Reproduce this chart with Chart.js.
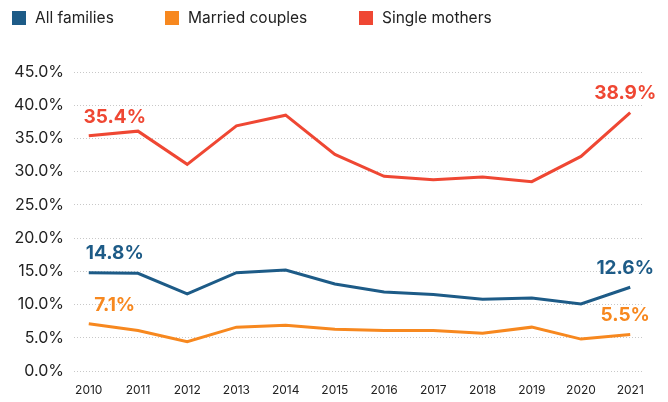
<!DOCTYPE html>
<html>
<head>
<meta charset="utf-8">
<script src="https://cdn.jsdelivr.net/npm/chart.js@4"></script>
<style>
  body { margin: 0; background: #fff; font-family: Inter, sans-serif; }
  #wrap { position: relative; width: 668px; height: 402px; }
  #legend { position: absolute; left: 0; top: 0; width: 668px; height: 36px; font-size: 15.5px; color: #222; }
  .item { position: absolute; top: 9px; height: 18px; line-height: 18px; white-space: nowrap; }
  .box { position: absolute; left: 0; top: 2px; width: 14px; height: 14px; }
  .txt { position: absolute; left: 23px; top: 0; }
</style>
</head>
<body>
<div id="wrap">
  <canvas id="chart" width="668" height="402"></canvas>
  <div id="legend"></div>
</div>
<script>
const years = [2010, 2011, 2012, 2013, 2014, 2015, 2016, 2017, 2018, 2019, 2020, 2021];
const allFamilies = [14.8, 14.7, 11.6, 14.8, 15.2, 13.1, 11.9, 11.5, 10.8, 11.0, 10.1, 12.6];
const marriedCouples = [7.1, 6.1, 4.4, 6.6, 6.9, 6.3, 6.1, 6.1, 5.7, 6.6, 4.8, 5.5];
const singleMothers = [35.4, 36.1, 31.1, 36.9, 38.5, 32.6, 29.3, 28.8, 29.2, 28.5, 32.3, 38.9];
const yTicks = [0, 5, 10, 15, 20, 25, 30, 35, 40, 45];

const seriesNames = ['All families', 'Married couples', 'Single mothers'];
const seriesColors = ['#1d5b87', '#f7881f', '#ef4733'];
const seriesValues = [allFamilies, marriedCouples, singleMothers];

// legend drawn as html, left aligned like the original
const legendX = [12, 165, 359];
const legend = document.getElementById('legend');
seriesNames.forEach((name, i) => {
    const item = document.createElement('div');
    item.className = 'item';
    item.style.left = legendX[i] + 'px';
    item.innerHTML = `<span class="box" style="background:${seriesColors[i]}"></span><span class="txt">${name}</span>`;
    legend.appendChild(item);
});

// first and last value labels above the lines
const endLabels = {
    id: 'endLabels',
    afterDatasetsDraw(chart) {
        const c = chart.ctx;
        c.save();
        c.font = '700 19px Inter, sans-serif';
        c.textAlign = 'center';
        c.textBaseline = 'middle';
        chart.data.datasets.forEach((ds, i) => {
            const pts = chart.getDatasetMeta(i).data;
            const first = pts[0];
            const last = pts[pts.length - 1];
            c.fillStyle = ds.borderColor;
            c.fillText(ds.data[0].y.toFixed(1) + '%', first.x + 26, first.y - 19);
            c.fillText(ds.data[ds.data.length - 1].y.toFixed(1) + '%', last.x - 5, last.y - 19);
        });
        c.restore();
    }
};

const ctx = document.getElementById('chart').getContext('2d');
const chart = new Chart(ctx, {
    type: 'line',
    data: {
        datasets: seriesNames.map((name, i) => ({
            label: name,
            data: years.map((yr, j) => ({ x: yr, y: seriesValues[i][j] })),
            borderColor: seriesColors[i],
            backgroundColor: seriesColors[i],
            borderWidth: 3,
            pointRadius: 0,
            tension: 0,
            fill: false
        }))
    },
    options: {
        responsive: false,
        animation: false,
        layout: { padding: { top: 72, right: 24, bottom: 0, left: 0 } },
        plugins: {
            legend: { display: false },
            tooltip: { enabled: false }
        },
        scales: {
            x: {
                type: 'linear',
                min: 2009.7,
                max: 2021.28,
                afterBuildTicks: scale => { scale.ticks = years.map(v => ({ value: v })); },
                afterFit: scale => { scale.height = 31; },
                grid: { display: false, drawTicks: false, tickLength: 0 },
                border: { display: false },
                ticks: {
                    padding: 12,
                    color: '#222',
                    font: { family: 'Inter', size: 12 },
                    maxRotation: 0,
                    autoSkip: false,
                    callback: v => String(v)
                }
            },
            y: {
                min: 0,
                max: 45,
                afterBuildTicks: scale => { scale.ticks = yTicks.map(v => ({ value: v })); },
                afterFit: scale => { scale.width = 74; },
                grid: {
                    color: '#c8c8c8',
                    lineWidth: 1,
                    drawTicks: false,
                    borderDash: [1, 2]
                },
                border: { display: false, dash: [1, 2] },
                ticks: {
                    padding: 10,
                    color: '#222',
                    font: { family: 'Inter', size: 16 },
                    callback: v => v.toFixed(1) + '%'
                }
            }
        }
    },
    plugins: [endLabels]
});
</script>
</body>
</html>
